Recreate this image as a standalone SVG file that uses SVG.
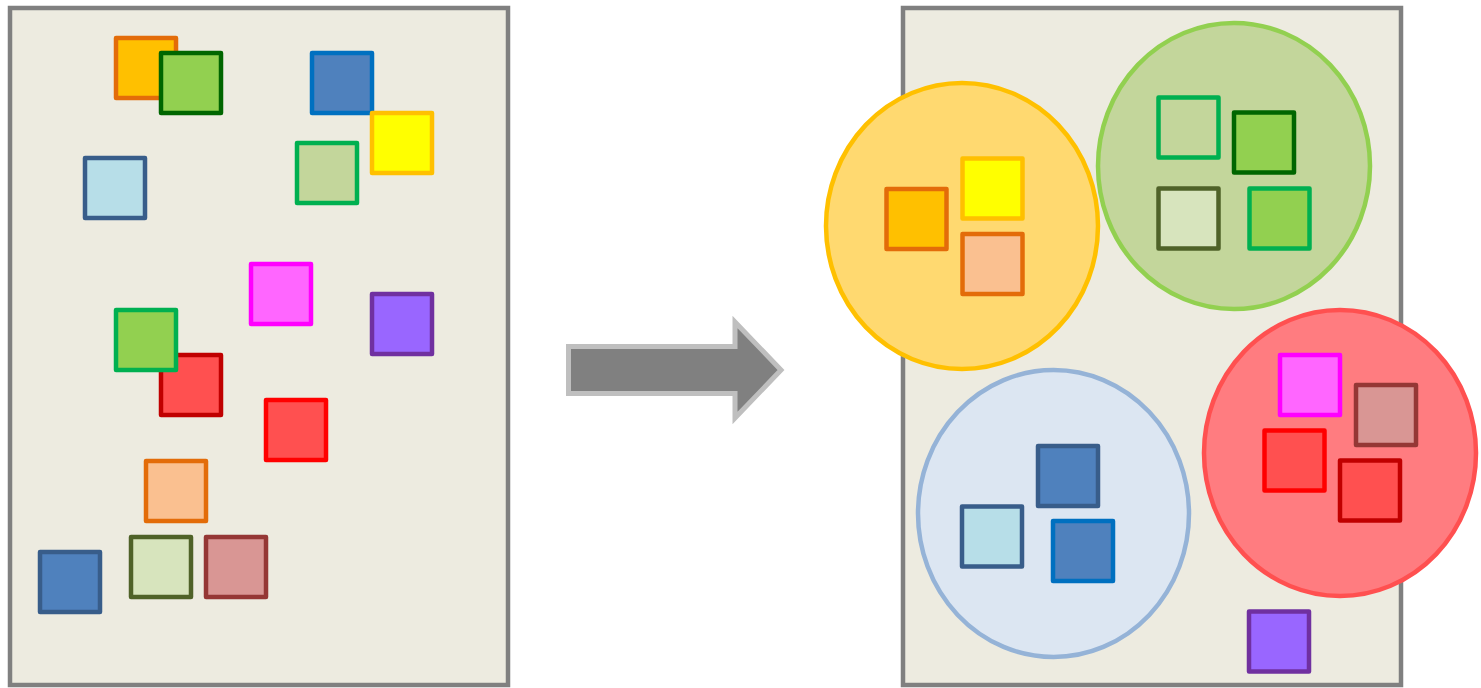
<svg xmlns="http://www.w3.org/2000/svg" width="1481" height="688" viewBox="0 0 1481 688">
<style>
.panel{fill:#EDEBE0;stroke:#808080;stroke-width:4.5}
.sq{stroke-width:4.5;stroke-linejoin:round}
.grp{stroke-width:4.5}
.orange{fill:#FFC000;stroke:#E36C09}
.green-dk{fill:#92D050;stroke:#006600}
.blue{fill:#4F81BD;stroke:#0070C0}
.yellow{fill:#FFFF00;stroke:#FFC000}
.ltblue{fill:#B7DEE8;stroke:#385D8A}
.olive{fill:#C3D69B;stroke:#00B050}
.pink{fill:#FF66FF;stroke:#FF00FF}
.purple{fill:#9966FF;stroke:#7030A0}
.green{fill:#92D050;stroke:#00B050}
.red-dk{fill:#FF5050;stroke:#C00000}
.red{fill:#FF5050;stroke:#FF0000}
.peach{fill:#FAC090;stroke:#E36C09}
.blue-dk{fill:#4F81BD;stroke:#385D8A}
.ltolive{fill:#D7E4BD;stroke:#4F6228}
.rose{fill:#D99694;stroke:#953735}
</style>
<g id="left-panel">
<rect class="panel" x="10" y="8" width="498" height="677"/>
</g>
<g id="left-items">
<rect id="l-orange" class="sq orange" x="116" y="38" width="60" height="60"/>
<rect id="l-green-dk" class="sq green-dk" x="161" y="53" width="60" height="60"/>
<rect id="l-blue" class="sq blue" x="312" y="53" width="60" height="60"/>
<rect id="l-yellow" class="sq yellow" x="372" y="113" width="60" height="60"/>
<rect id="l-ltblue" class="sq ltblue" x="85" y="158" width="60" height="60"/>
<rect id="l-olive" class="sq olive" x="297" y="143" width="60" height="60"/>
<rect id="l-pink" class="sq pink" x="251" y="264" width="60" height="60"/>
<rect id="l-purple" class="sq purple" x="372" y="294" width="60" height="60"/>
<rect id="l-red-dk" class="sq red-dk" x="161" y="355" width="60" height="60"/>
<rect id="l-green" class="sq green" x="116" y="310" width="60" height="60"/>
<rect id="l-red" class="sq red" x="266" y="400" width="60" height="60"/>
<rect id="l-peach" class="sq peach" x="146" y="461" width="60" height="60"/>
<rect id="l-blue-dk" class="sq blue-dk" x="40" y="552" width="60" height="60"/>
<rect id="l-ltolive" class="sq ltolive" x="131" y="537" width="60" height="60"/>
<rect id="l-rose" class="sq rose" x="206" y="537" width="60" height="60"/>
</g>
<g id="connectors">
<path id="arrow" d="M568.5,346.5 H735 V322 L781,370 L735,418 V393.5 H568.5 Z" fill="#808080" stroke="#BFBFBF" stroke-width="5" stroke-linejoin="miter"/>
</g>
<g id="right-panel">
<rect class="panel" x="903" y="8" width="498" height="677"/>
</g>
<g id="cluster-yellow">
<ellipse class="grp" cx="962" cy="226" rx="136" ry="143" fill="#FFD970" stroke="#FFC000"/>
<rect class="sq orange" x="886.5" y="189" width="60" height="60"/>
<rect class="sq yellow" x="962.5" y="158.5" width="60" height="60"/>
<rect class="sq peach" x="962.5" y="234" width="60" height="60"/>
</g>
<g id="cluster-green">
<ellipse class="grp" cx="1234" cy="166" rx="136" ry="143" fill="#C3D69B" stroke="#92D050"/>
<rect class="sq olive" x="1158.5" y="97.5" width="60" height="60"/>
<rect class="sq green-dk" x="1234" y="112.5" width="60" height="60"/>
<rect class="sq ltolive" x="1158.5" y="188.5" width="60" height="60"/>
<rect class="sq green" x="1249.5" y="188.5" width="60" height="60"/>
</g>
<g id="cluster-red">
<ellipse class="grp" cx="1340" cy="453" rx="136" ry="143" fill="#FF7C80" stroke="#FF5050"/>
<rect class="sq pink" x="1280" y="355" width="60" height="60"/>
<rect class="sq rose" x="1356" y="385" width="60" height="60"/>
<rect class="sq red" x="1264.5" y="430.5" width="60" height="60"/>
<rect class="sq red-dk" x="1340" y="460.5" width="60" height="60"/>
</g>
<g id="cluster-blue">
<ellipse class="grp" cx="1053.5" cy="513.5" rx="135.5" ry="143.5" fill="#DCE6F2" stroke="#95B3D7"/>
<rect class="sq blue-dk" x="1038" y="446" width="60" height="60"/>
<rect class="sq ltblue" x="962" y="506.5" width="60" height="60"/>
<rect class="sq blue" x="1053" y="521" width="60" height="60"/>
</g>
<g id="outlier">
<rect class="sq purple" x="1249" y="611.5" width="60" height="60"/>
</g>
</svg>
